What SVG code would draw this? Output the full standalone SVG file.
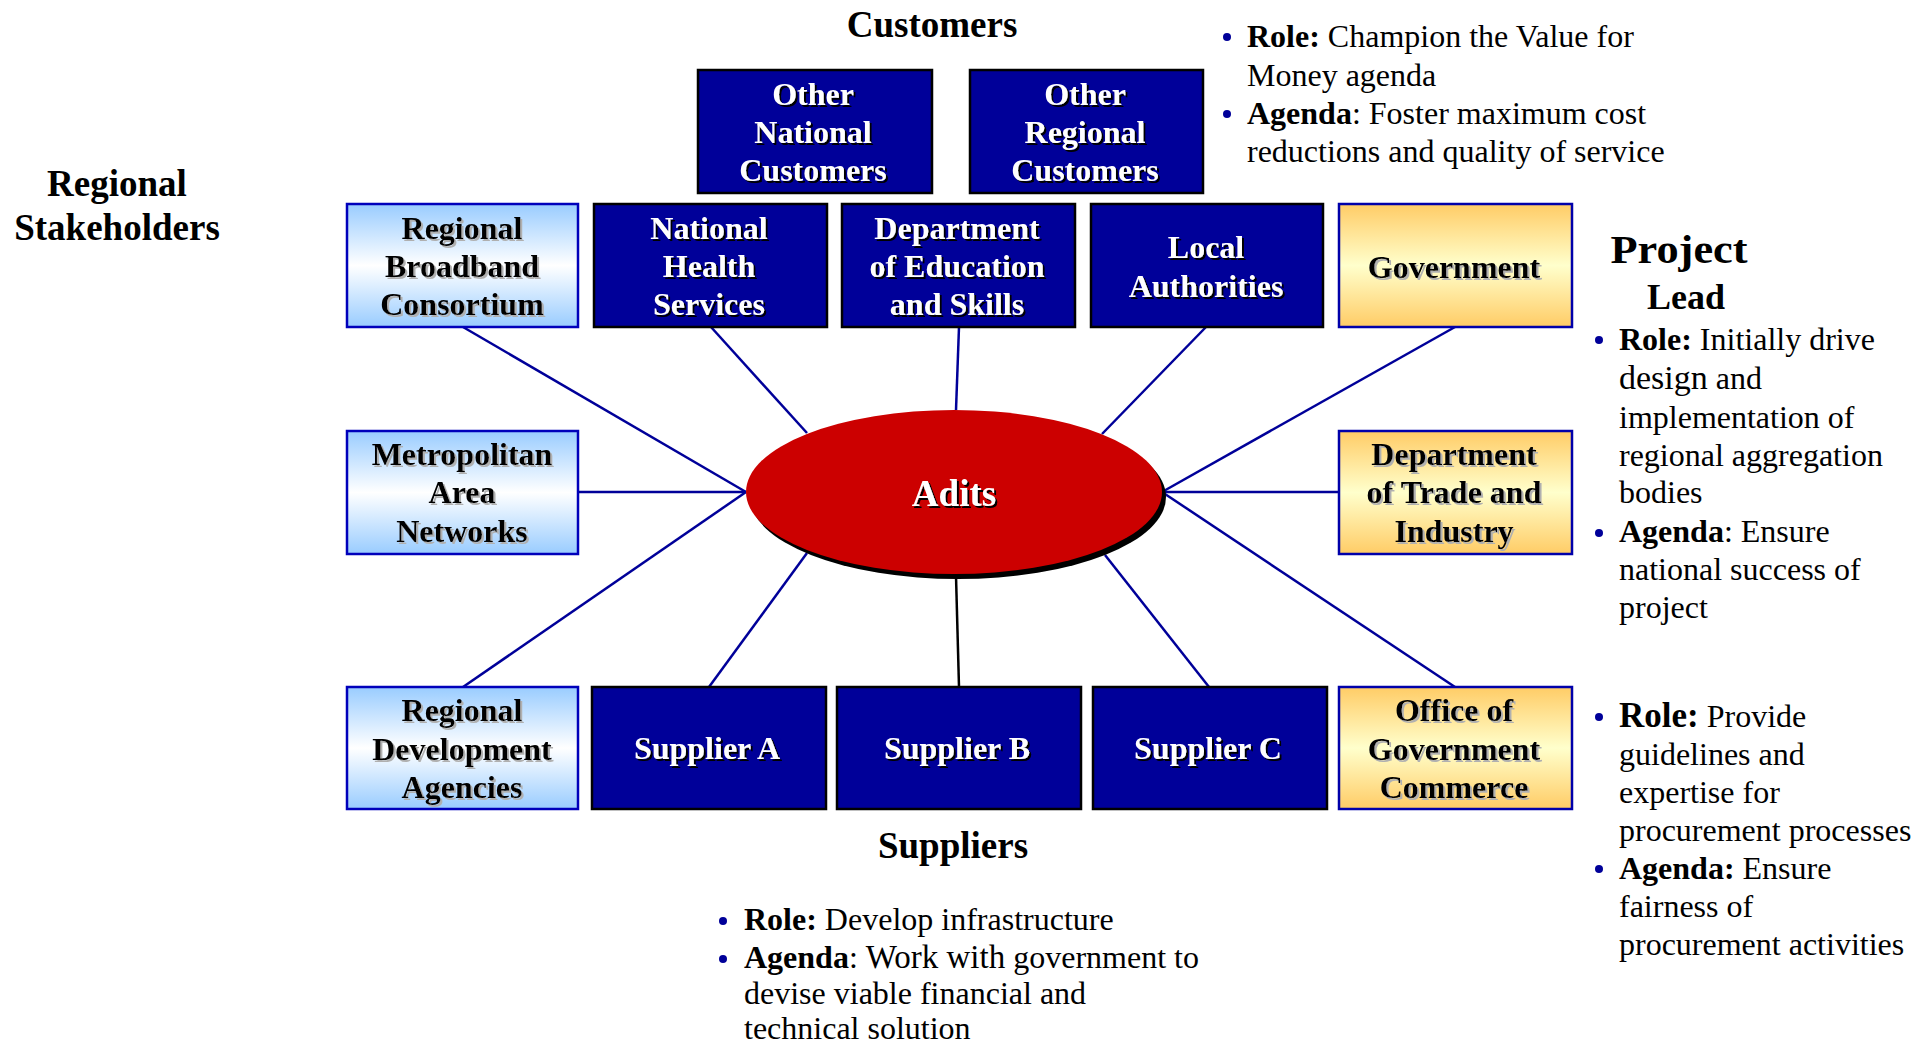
<svg xmlns="http://www.w3.org/2000/svg" width="1930" height="1047" viewBox="0 0 1930 1047">
<style>
.title{font-family:"Liberation Serif","Times New Roman",serif;font-weight:bold;font-size:37px;fill:#000;text-anchor:middle}
.bt{font-family:"Liberation Serif","Times New Roman",serif;font-weight:bold;font-size:32px;text-anchor:middle}
.w{fill:#fff;filter:url(#shDark)}
.k{fill:#000;filter:url(#shLight)}
.dark{fill:#000099;stroke:#000;stroke-width:2.5}
.lb{fill:url(#gBlue);stroke:#0000bb;stroke-width:2.5}
.gold{fill:url(#gGold);stroke:#0000aa;stroke-width:2.5}
.body{font-family:"Liberation Serif","Times New Roman",serif;font-size:32px;fill:#000}
.b{font-weight:bold}
.bul{fill:#000099}
.conn{stroke:#000099;stroke-width:2.5;fill:none}
</style>
<defs>
<linearGradient id="gBlue" x1="0" y1="0" x2="0" y2="1">
<stop offset="0" stop-color="#99ccff"/><stop offset="0.5" stop-color="#ffffff"/><stop offset="1" stop-color="#99ccff"/>
</linearGradient>
<linearGradient id="gGold" x1="0" y1="0" x2="0" y2="1">
<stop offset="0" stop-color="#ffcc66"/><stop offset="0.5" stop-color="#ffffcc"/><stop offset="1" stop-color="#ffcc66"/>
</linearGradient>
<filter id="shDark" x="-10%" y="-20%" width="120%" height="140%">
<feOffset in="SourceAlpha" dx="2" dy="2" result="o"/>
<feFlood flood-color="#000000"/><feComposite in2="o" operator="in" result="s"/>
<feMerge><feMergeNode in="s"/><feMergeNode in="SourceGraphic"/></feMerge>
</filter>
<filter id="shLight" x="-10%" y="-20%" width="120%" height="140%">
<feOffset in="SourceAlpha" dx="2" dy="2" result="o"/>
<feFlood flood-color="#b0b0b0"/><feComposite in2="o" operator="in" result="s"/>
<feMerge><feMergeNode in="s"/><feMergeNode in="SourceGraphic"/></feMerge>
</filter>
</defs>
<rect width="1930" height="1047" fill="#fff"/>

<g id="connectors">
<line class="conn" x1="463" y1="327" x2="746" y2="492"/>
<line class="conn" x1="578" y1="492" x2="746" y2="492"/>
<line class="conn" x1="463" y1="687" x2="746" y2="492"/>
<line class="conn" x1="711" y1="327" x2="807" y2="433"/>
<line class="conn" x1="959" y1="327" x2="956" y2="410"/>
<line class="conn" x1="1206" y1="327" x2="1102" y2="434"/>
<line class="conn" x1="1455" y1="327" x2="1162" y2="492"/>
<line class="conn" x1="1339" y1="492" x2="1162" y2="492"/>
<line class="conn" x1="1455" y1="687" x2="1162" y2="492"/>
<line class="conn" x1="709" y1="687" x2="807" y2="553"/>
<line class="conn" x1="959" y1="687" x2="956" y2="576" style="stroke:#000"/>
<line class="conn" x1="1209" y1="687" x2="1105" y2="555"/>
</g>

<g id="adits">
<ellipse cx="958" cy="497" rx="208" ry="82" fill="#000"/>
<ellipse cx="954" cy="492" rx="208" ry="82" fill="#cc0000"/>
<text class="bt w" x="954" y="506" style="font-size:37px">Adits</text>
</g>

<g id="title-customers"><text class="title" x="932" y="37">Customers</text></g>
<g id="title-regional"><text class="title" x="117" y="196">Regional</text><text class="title" x="117" y="240">Stakeholders</text></g>
<g id="title-project"><text class="title" x="1679" y="263" style="font-size:40px" textLength="137" lengthAdjust="spacingAndGlyphs">Project</text><text class="title" x="1686" y="309" style="font-size:36px">Lead</text></g>
<g id="title-suppliers"><text class="title" x="953" y="858">Suppliers</text></g>

<g id="n-other-national"><rect class="dark" x="698" y="70" width="234" height="123"/>
<text class="bt w" x="813" y="105">Other</text><text class="bt w" x="813" y="143">National</text><text class="bt w" x="813" y="181">Customers</text></g>
<g id="n-other-regional"><rect class="dark" x="970" y="70" width="233" height="123"/>
<text class="bt w" x="1085" y="105">Other</text><text class="bt w" x="1085" y="143">Regional</text><text class="bt w" x="1085" y="181">Customers</text></g>

<g id="n-rbc"><rect class="lb" x="347" y="204" width="231" height="123"/>
<text class="bt k" x="462" y="239">Regional</text><text class="bt k" x="462" y="277">Broadband</text><text class="bt k" x="462" y="315">Consortium</text></g>
<g id="n-nhs"><rect class="dark" x="594" y="204" width="233" height="123"/>
<text class="bt w" x="709" y="239">National</text><text class="bt w" x="709" y="277">Health</text><text class="bt w" x="709" y="315">Services</text></g>
<g id="n-des"><rect class="dark" x="842" y="204" width="233" height="123"/>
<text class="bt w" x="957" y="239">Department</text><text class="bt w" x="957" y="277">of Education</text><text class="bt w" x="957" y="315">and Skills</text></g>
<g id="n-la"><rect class="dark" x="1091" y="204" width="232" height="123"/>
<text class="bt w" x="1206" y="258">Local</text><text class="bt w" x="1206" y="297">Authorities</text></g>
<g id="n-gov"><rect class="gold" x="1339" y="204" width="233" height="123"/>
<text class="bt k" x="1454" y="278">Government</text></g>

<g id="n-man"><rect class="lb" x="347" y="431" width="231" height="123"/>
<text class="bt k" x="462" y="465">Metropolitan</text><text class="bt k" x="462" y="503">Area</text><text class="bt k" x="462" y="542">Networks</text></g>
<g id="n-dti"><rect class="gold" x="1339" y="431" width="233" height="123"/>
<text class="bt k" x="1454" y="465">Department</text><text class="bt k" x="1454" y="503">of Trade and</text><text class="bt k" x="1454" y="542">Industry</text></g>

<g id="n-rda"><rect class="lb" x="347" y="687" width="231" height="122"/>
<text class="bt k" x="462" y="721">Regional</text><text class="bt k" x="462" y="760">Development</text><text class="bt k" x="462" y="798">Agencies</text></g>
<g id="n-sa"><rect class="dark" x="592" y="687" width="234" height="122"/>
<text class="bt w" x="707" y="759">Supplier A</text></g>
<g id="n-sb"><rect class="dark" x="837" y="687" width="244" height="122"/>
<text class="bt w" x="957" y="759">Supplier B</text></g>
<g id="n-sc"><rect class="dark" x="1093" y="687" width="234" height="122"/>
<text class="bt w" x="1208" y="759">Supplier C</text></g>
<g id="n-ogc"><rect class="gold" x="1339" y="687" width="233" height="122"/>
<text class="bt k" x="1454" y="721">Office of</text><text class="bt k" x="1454" y="760">Government</text><text class="bt k" x="1454" y="798">Commerce</text></g>

<g id="notes-customers">
<circle class="bul" cx="1227" cy="37" r="4"/><circle class="bul" cx="1227" cy="114" r="4"/>
<text class="body" x="1247" y="47"><tspan class="b">Role:</tspan> Champion the Value for</text>
<text class="body" x="1247" y="86">Money agenda</text>
<text class="body" x="1247" y="124"><tspan class="b">Agenda</tspan>: Foster maximum cost</text>
<text class="body" x="1247" y="162">reductions and quality of service</text>
</g>

<g id="notes-project">
<circle class="bul" cx="1599" cy="340" r="4"/><circle class="bul" cx="1599" cy="533" r="4"/>
<text class="body" x="1619" y="350"><tspan class="b">Role:</tspan> Initially drive</text>
<text class="body" x="1619" y="389"><tspan style="font-size:34px">design</tspan> and</text>
<text class="body" x="1619" y="428">implementation of</text>
<text class="body" x="1619" y="466">regional aggregation</text>
<text class="body" x="1619" y="503">bodies</text>
<text class="body" x="1619" y="542"><tspan class="b">Agenda</tspan>: Ensure</text>
<text class="body" x="1619" y="580">national success of</text>
<text class="body" x="1619" y="618">project</text>
</g>

<g id="notes-ogc">
<circle class="bul" cx="1599" cy="717" r="4"/><circle class="bul" cx="1599" cy="869" r="4"/>
<text class="body" x="1619" y="727"><tspan class="b" style="font-size:35px">Role:</tspan> Provide</text>
<text class="body" x="1619" y="765">guidelines and</text>
<text class="body" x="1619" y="803">expertise for</text>
<text class="body" x="1619" y="841">procurement processes</text>
<text class="body" x="1619" y="879"><tspan class="b">Agenda:</tspan> Ensure</text>
<text class="body" x="1619" y="917">fairness of</text>
<text class="body" x="1619" y="955">procurement activities</text>
</g>

<g id="notes-suppliers">
<circle class="bul" cx="723" cy="921" r="4"/><circle class="bul" cx="723" cy="959" r="4"/>
<text class="body" x="744" y="930"><tspan class="b">Role:</tspan> Develop infrastructure</text>
<text class="body" x="744" y="968"><tspan class="b">Agenda</tspan>: <tspan style="font-size:33px">Work with</tspan> government to</text>
<text class="body" x="744" y="1004">devise viable financial and</text>
<text class="body" x="744" y="1039">technical solution</text>
</g>
</svg>
